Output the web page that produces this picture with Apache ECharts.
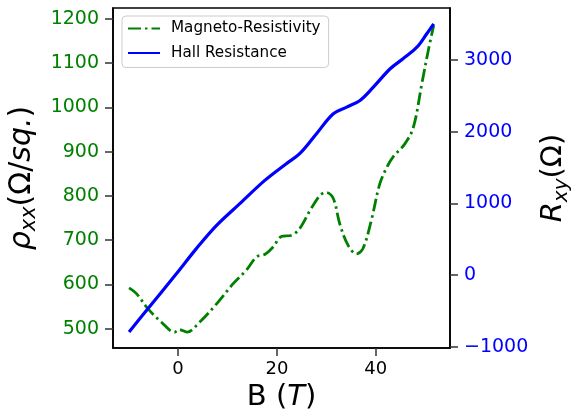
<!DOCTYPE html>
<html><head><meta charset="utf-8">
<script src="https://cdn.jsdelivr.net/npm/echarts@6/dist/echarts.min.js"></script>
<style>html,body{margin:0;padding:0;background:#fff}#c{width:571px;height:418px}</style>
</head><body><div id="c"></div>
<script>
// Magneto-resistivity (left axis, Ω/sq.)
const mrB   = [-9.9,-8.4,-6.1,-3.4,-0.7,0.2,1.8,4.4,7.8,11.1,13.8,15.9,17.6,19.2,20.9,23.0,24.6,26.7,28.7,29.9,31.4,32.7,34.4,36.1,37.4,39.1,40.8,42.3,43.5,45.9,47.6,49.3,50.6,51.7];
const mrVal = [592,579,545,515,492,498,492,515,556,601,632,662,668,684,708,711,726,767,801,808,794,737,688,669,681,745,827,866,888,918,955,1053,1128,1185];
// Hall resistance (right axis, Ω)
const hallB   = [-9.9,-6.1,-0.3,3.7,7.8,12.5,17.55,21.9,24.6,28.0,31.4,34.1,36.8,39.5,42.9,45.5,48.3,50.3,51.7];
const hallVal = [-791,-466,22,370,694,996,1320,1553,1692,1970,2248,2340,2434,2619,2875,3014,3175,3362,3501];
// tick labels
const xTicks = [0,20,40];
const yLeftTicks = [500,600,700,800,900,1000,1100,1200];
const yRightTicks = [-1000,0,1000,2000,3000];
const seriesNames = ['Magneto-Resistivity','Hall Resistance'];

const FF = 'DejaVu Sans';
const chart = echarts.init(document.getElementById('c'));
const zip = (a,b)=>a.map((v,i)=>[v,b[i]]);
const mkTick = vals => ({show:true, customValues:vals, length:8, lineStyle:{color:'#333', width:1.5}});
const axisLineStyle = {show:true, onZero:false, lineStyle:{color:'#000', width:1.6}};
const fmt = v=>String(v).replace('-','\u2212');
chart.setOption({
  animation:false,
  grid:{left:113, right:121, top:8, bottom:70, outerBoundsMode:'none',
        show:true, borderColor:'#000', borderWidth:1.6, backgroundColor:'transparent'},
  legend:{
    left:122, top:16, orient:'vertical', itemWidth:32, itemHeight:14, itemGap:9.5,
    padding:[5,8,7,5], borderColor:'#ccc', borderWidth:1, borderRadius:4,
    backgroundColor:'rgba(255,255,255,0.8)',
    itemStyle:{opacity:0, borderWidth:0},
    textStyle:{fontFamily:FF, fontSize:15.2, color:'#000', padding:[0,0,0,6]},
    data:seriesNames
  },
  xAxis:{
    type:'value', min:-13.15, max:55.0,
    axisLine:axisLineStyle, splitLine:{show:false},
    axisTick:mkTick(xTicks),
    axisLabel:{customValues:xTicks, fontFamily:FF, fontSize:18, color:'#000', margin:12, formatter:fmt},
    name:'{n|B (}{i|T}{n|)}', nameLocation:'middle', nameGap:30,
    nameTextStyle:{rich:{n:{fontFamily:FF,fontSize:29,color:'#000'}, i:{fontFamily:FF,fontSize:29,fontStyle:'italic',color:'#000'}}}
  },
  yAxis:[{
    type:'value', min:456.2, max:1224.4, position:'left',
    axisLine:axisLineStyle, splitLine:{show:false},
    axisTick:mkTick(yLeftTicks),
    axisLabel:{customValues:yLeftTicks, fontFamily:FF, fontSize:19, color:'#008000', margin:14, formatter:fmt},
    name:'{i|ρ}{s|xx}{n|(Ω/}{i|sq.}{n|)}', nameLocation:'middle', nameRotate:90, nameGap:64,
    nameTextStyle:{rich:{
      n:{fontFamily:FF,fontSize:30,color:'#000',lineHeight:36},
      i:{fontFamily:FF,fontSize:30,fontStyle:'italic',color:'#000',lineHeight:36},
      s:{fontFamily:FF,fontSize:21,fontStyle:'italic',color:'#000',lineHeight:22,verticalAlign:'bottom'}
    }}
  },{
    type:'value', min:-1014, max:3721, position:'right',
    axisLine:axisLineStyle, splitLine:{show:false},
    axisTick:mkTick(yRightTicks),
    axisLabel:{customValues:yRightTicks, fontFamily:FF, fontSize:19, color:'#0000ff', margin:14, formatter:fmt},
    name:'{i|R}{s|xy}{n|(Ω)}', nameLocation:'middle', nameRotate:90, nameGap:79,
    nameTextStyle:{rich:{
      n:{fontFamily:FF,fontSize:29,color:'#000',lineHeight:36},
      i:{fontFamily:FF,fontSize:29,fontStyle:'italic',color:'#000',lineHeight:36},
      s:{fontFamily:FF,fontSize:20,fontStyle:'italic',color:'#000',lineHeight:22,verticalAlign:'bottom'}
    }}
  }],
  series:[{
    name:seriesNames[0], type:'line', yAxisIndex:0, data:zip(mrB,mrVal),
    smooth:0.35, symbol:'none',
    lineStyle:{color:'#008000', width:2.8, type:[13,4,2.5,4], cap:'butt'},
    itemStyle:{color:'#008000'}
  },{
    name:seriesNames[1], type:'line', yAxisIndex:1, data:zip(hallB,hallVal),
    smooth:0.35, symbol:'none',
    lineStyle:{color:'#0000ff', width:3.2},
    itemStyle:{color:'#0000ff'}
  }]
});
</script></body></html>
